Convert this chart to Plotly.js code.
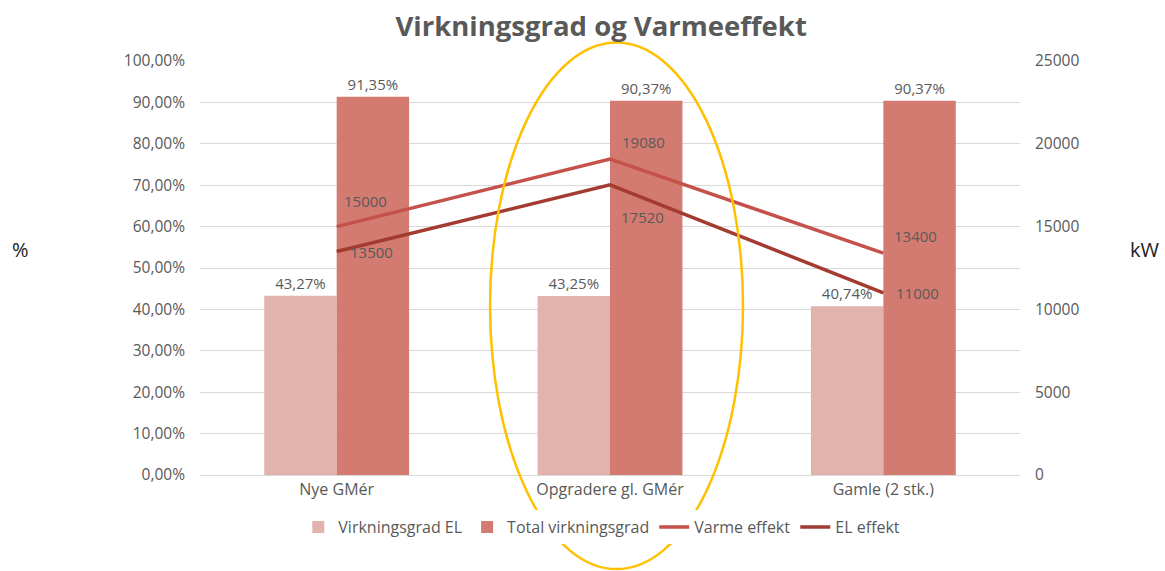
<!DOCTYPE html>
<html>
<head>
<meta charset="utf-8">
<script src="https://cdn.plot.ly/plotly-3.0.1.min.js"></script>
<style>html,body{margin:0;padding:0;background:#fff;}#chart{width:1165px;height:571px;}</style>
</head>
<body>
<div id="chart"></div>
<script>
const categories = ['Nye GMér', 'Opgradere gl. GMér', 'Gamle (2 stk.)'];
const virkningsgradEL = [0.4327, 0.4325, 0.4074];
const totalVirkningsgrad = [0.9135, 0.9037, 0.9037];
const varmeEffekt = [15000, 19080, 13400];
const elEffekt = [13500, 17520, 11000];
const varmeLabelShift = [[29, 26], [33, 17], [32, 17]];
const elLabelShift = [[35, -1], [32, -32], [34, 0]];

const font = 'Open Sans, Lato, sans-serif';
const grey = '#595959';

const traces = [
  {
    type: 'bar', name: 'Virkningsgrad EL', x: categories, y: virkningsgradEL,
    marker: {color: '#e2b2ad'},
    texttemplate: '%{y:.2%}', textposition: 'outside',
    textfont: {family: font, size: 15, color: grey}, cliponaxis: false
  },
  {
    type: 'bar', name: 'Total virkningsgrad', x: categories, y: totalVirkningsgrad,
    marker: {color: '#d47b71'},
    texttemplate: '%{y:.2%}', textposition: 'outside',
    textfont: {family: font, size: 15, color: grey}, cliponaxis: false
  },
  {
    type: 'scatter', mode: 'lines', name: 'Varme effekt', x: categories, y: varmeEffekt,
    yaxis: 'y2', line: {color: '#c4524a', width: 3.5}
  },
  {
    type: 'scatter', mode: 'lines', name: 'EL effekt', x: categories, y: elEffekt,
    yaxis: 'y2', line: {color: '#a33b30', width: 3.5}
  }
];

const annotations = [];
categories.forEach((c, i) => {
  annotations.push({x: c, y: varmeEffekt[i], xref: 'x', yref: 'y2', text: String(varmeEffekt[i]),
    showarrow: false, xanchor: 'center', yanchor: 'middle',
    xshift: varmeLabelShift[i][0], yshift: varmeLabelShift[i][1],
    font: {family: font, size: 15, color: grey}});
  annotations.push({x: c, y: elEffekt[i], xref: 'x', yref: 'y2', text: String(elEffekt[i]),
    showarrow: false, xanchor: 'center', yanchor: 'middle',
    xshift: elLabelShift[i][0], yshift: elLabelShift[i][1],
    font: {family: font, size: 15, color: grey}});
});
annotations.push({xref: 'paper', yref: 'paper', x: -0.2195, y: 0.544, xanchor: 'center', yanchor: 'middle',
  text: '%', showarrow: false, font: {family: font, size: 20, color: '#222'}});
annotations.push({xref: 'paper', yref: 'paper', x: 1.152, y: 0.544, xanchor: 'center', yanchor: 'middle',
  text: 'kW', showarrow: false, font: {family: font, size: 20, color: '#222'}});

const layout = {
  width: 1165, height: 571,
  margin: {l: 200, r: 145, t: 61, b: 96},
  paper_bgcolor: '#fff', plot_bgcolor: '#fff',
  separators: ',.',
  barmode: 'group', bargap: 0.47, bargroupgap: 0,
  hovermode: false,
  title: {text: '<b>Virkningsgrad og Varmeeffekt</b>', x: 0.516, xanchor: 'center', y: 0.953, yanchor: 'middle',
    font: {family: font, size: 27.5, color: grey}},
  font: {family: font, size: 15, color: grey},
  xaxis: {showgrid: false, showline: true, linecolor: '#d9d9d9', linewidth: 1, ticks: '',
    tickfont: {family: font, size: 16, color: grey}, fixedrange: true},
  yaxis: {range: [0, 1], dtick: 0.1, tickformat: '.2%', showgrid: true, gridcolor: '#d9d9d9',
    gridwidth: 1, zeroline: false, showline: false, ticks: '', ticklabelstandoff: 14,
    tickfont: {family: font, size: 15.5, color: grey}, fixedrange: true},
  yaxis2: {range: [0, 25000], dtick: 5000, tickformat: 'd', overlaying: 'y', side: 'right',
    showgrid: false, zeroline: false, showline: false, ticks: '', ticklabelstandoff: 14,
    tickfont: {family: font, size: 15.5, color: grey}, fixedrange: true},
  legend: {orientation: 'h', x: 0.49, xanchor: 'center', y: -0.126, yanchor: 'middle',
    font: {family: font, size: 16, color: grey}, itemwidth: 30, tracegroupgap: 0},
  annotations: annotations,
  shapes: [{type: 'circle', xref: 'paper', yref: 'paper', x0: 0.3537, x1: 0.6622, y0: -0.2273, y1: 1.0447,
    line: {color: '#ffc000', width: 2.5}, layer: 'above'}]
};

Plotly.newPlot('chart', traces, layout, {displayModeBar: false, staticPlot: true});
</script>
</body>
</html>
